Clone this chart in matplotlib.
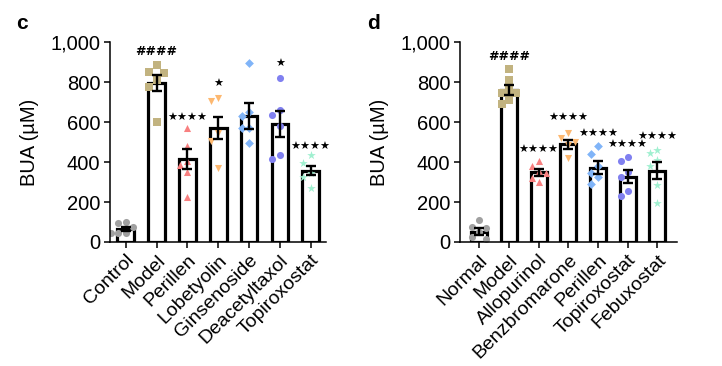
import numpy as np
import matplotlib.pyplot as plt

plt.rcParams['font.family'] = ['Liberation Sans', 'DejaVu Sans']

# panel c
c_groups = ['Control', 'Model', 'Perillen', 'Lobetyolin', 'Ginsenoside',
            'Deacetyltaxol', 'Topiroxostat']
c_means = [63, 797, 413, 572, 632, 590, 356]
c_sems = [10, 40, 50, 55, 65, 64, 22]
c_points = [
    [102, 93, 73, 47, 43, 43],
    [885, 852, 843, 810, 777, 602],
    [572, 480, 407, 385, 352, 227],
    [718, 705, 543, 505, 368],
    [897, 652, 630, 568, 568, 497],
    [822, 660, 635, 580, 435, 413],
    [435, 397, 347, 327, 272],
]
c_sig = ['', '####', '★★★★', '★', '', '★', '★★★★']
c_sig_y = [0, 952, 618, 790, 0, 890, 473]

# panel d
d_groups = ['Normal', 'Model', 'Allopurinol', 'Benzbromarone', 'Perillen',
            'Topiroxostat', 'Febuxostat']
d_means = [52, 760, 348, 488, 372, 327, 357]
d_sems = [18, 27, 17, 21, 34, 33, 42]
d_points = [
    [110, 77, 68, 52, 27, 15],
    [863, 810, 760, 743, 743, 710, 688],
    [407, 380, 357, 343, 318, 302],
    [543, 518, 502, 485, 422],
    [480, 438, 380, 343, 323, 290],
    [423, 405, 352, 327, 257, 230],
    [460, 447, 410, 380, 283, 197],
]
d_sig = ['', '####', '★★★★', '★★★★', '★★★★', '★★★★', '★★★★']
d_sig_y = [0, 927, 460, 622, 540, 485, 527]

colors = ['#a0a0a0', '#c2b380', '#f88080', '#fdb870', '#80b4f8',
          '#8080f0', '#a0f0d0']
markers = ['o', 's', '^', 'v', 'D', 'o', '*']


def swarm(vals, gap=45, step=0.24):
    """Simple horizontal spread for points that sit close together."""
    placed = []
    out = []
    for v in vals:
        used = [o for pv, o in placed if abs(pv - v) < gap]
        for cand in (0, -step, step, -2 * step, 2 * step):
            if all(abs(cand - u) > 1e-6 for u in used):
                break
        placed.append((v, cand))
        out.append(cand)
    return out


def panel(ax, groups, means, sems, points, sig, sig_y, xlim):
    x = np.arange(len(groups))
    ax.bar(x, means, width=0.54, facecolor='white', edgecolor='black',
           linewidth=2.3, zorder=1)
    for i, vals in enumerate(points):
        offs = swarm(vals)
        size = {'*': 42, 'D': 20}.get(markers[i], 26)
        ax.scatter(i + np.array(offs), vals, s=size, marker=markers[i],
                   color=colors[i], linewidths=0, zorder=2)
    ax.errorbar(x, means, yerr=sems, fmt='none', ecolor='black',
                elinewidth=1.7, capsize=3.6, capthick=1.7, zorder=3)
    for i, s in enumerate(sig):
        if s:
            hash_ = s.startswith('#')
            ax.text(i, sig_y[i], s, ha='center', va='center',
                    fontsize=9 if hash_ else 8, family=['DejaVu Sans'],
                    fontweight='bold' if hash_ else 'normal', zorder=4)
    ax.set_ylim(0, 1000)
    ax.set_xlim(*xlim)
    ax.set_yticks([0, 200, 400, 600, 800, 1000])
    ax.set_yticklabels(['0', '200', '400', '600', '800', '1,000'])
    ax.set_xticks(x)
    ax.set_xticklabels(groups, rotation=45, ha='right', rotation_mode='anchor')
    ax.set_ylabel('BUA (µM)', fontsize=14.5, labelpad=8)
    ax.tick_params(axis='y', labelsize=14.5)
    ax.tick_params(axis='x', labelsize=14)
    ax.tick_params(length=4, width=1.1, pad=3)
    for side in ('top', 'right'):
        ax.spines[side].set_visible(False)
    for side in ('left', 'bottom'):
        ax.spines[side].set_linewidth(1.1)


def main():
    fig = plt.figure(figsize=(7.22, 3.66), dpi=100)
    ax1 = fig.add_axes([0.1524, 0.3388, 0.2992, 0.5464])
    ax2 = fig.add_axes([0.6371, 0.3388, 0.3001, 0.5464])
    panel(ax1, c_groups, c_means, c_sems, c_points, c_sig, c_sig_y,
          (-0.51, 6.5))
    panel(ax2, d_groups, d_means, d_sems, d_points, d_sig, d_sig_y,
          (-0.65, 6.65))
    fig.text(0.022, 0.935, 'c', fontsize=15, fontweight='bold', va='center')
    fig.text(0.508, 0.935, 'd', fontsize=15, fontweight='bold', va='center')
    fig.savefig('out.png', dpi=100)


if __name__ == "__main__":
    main()
